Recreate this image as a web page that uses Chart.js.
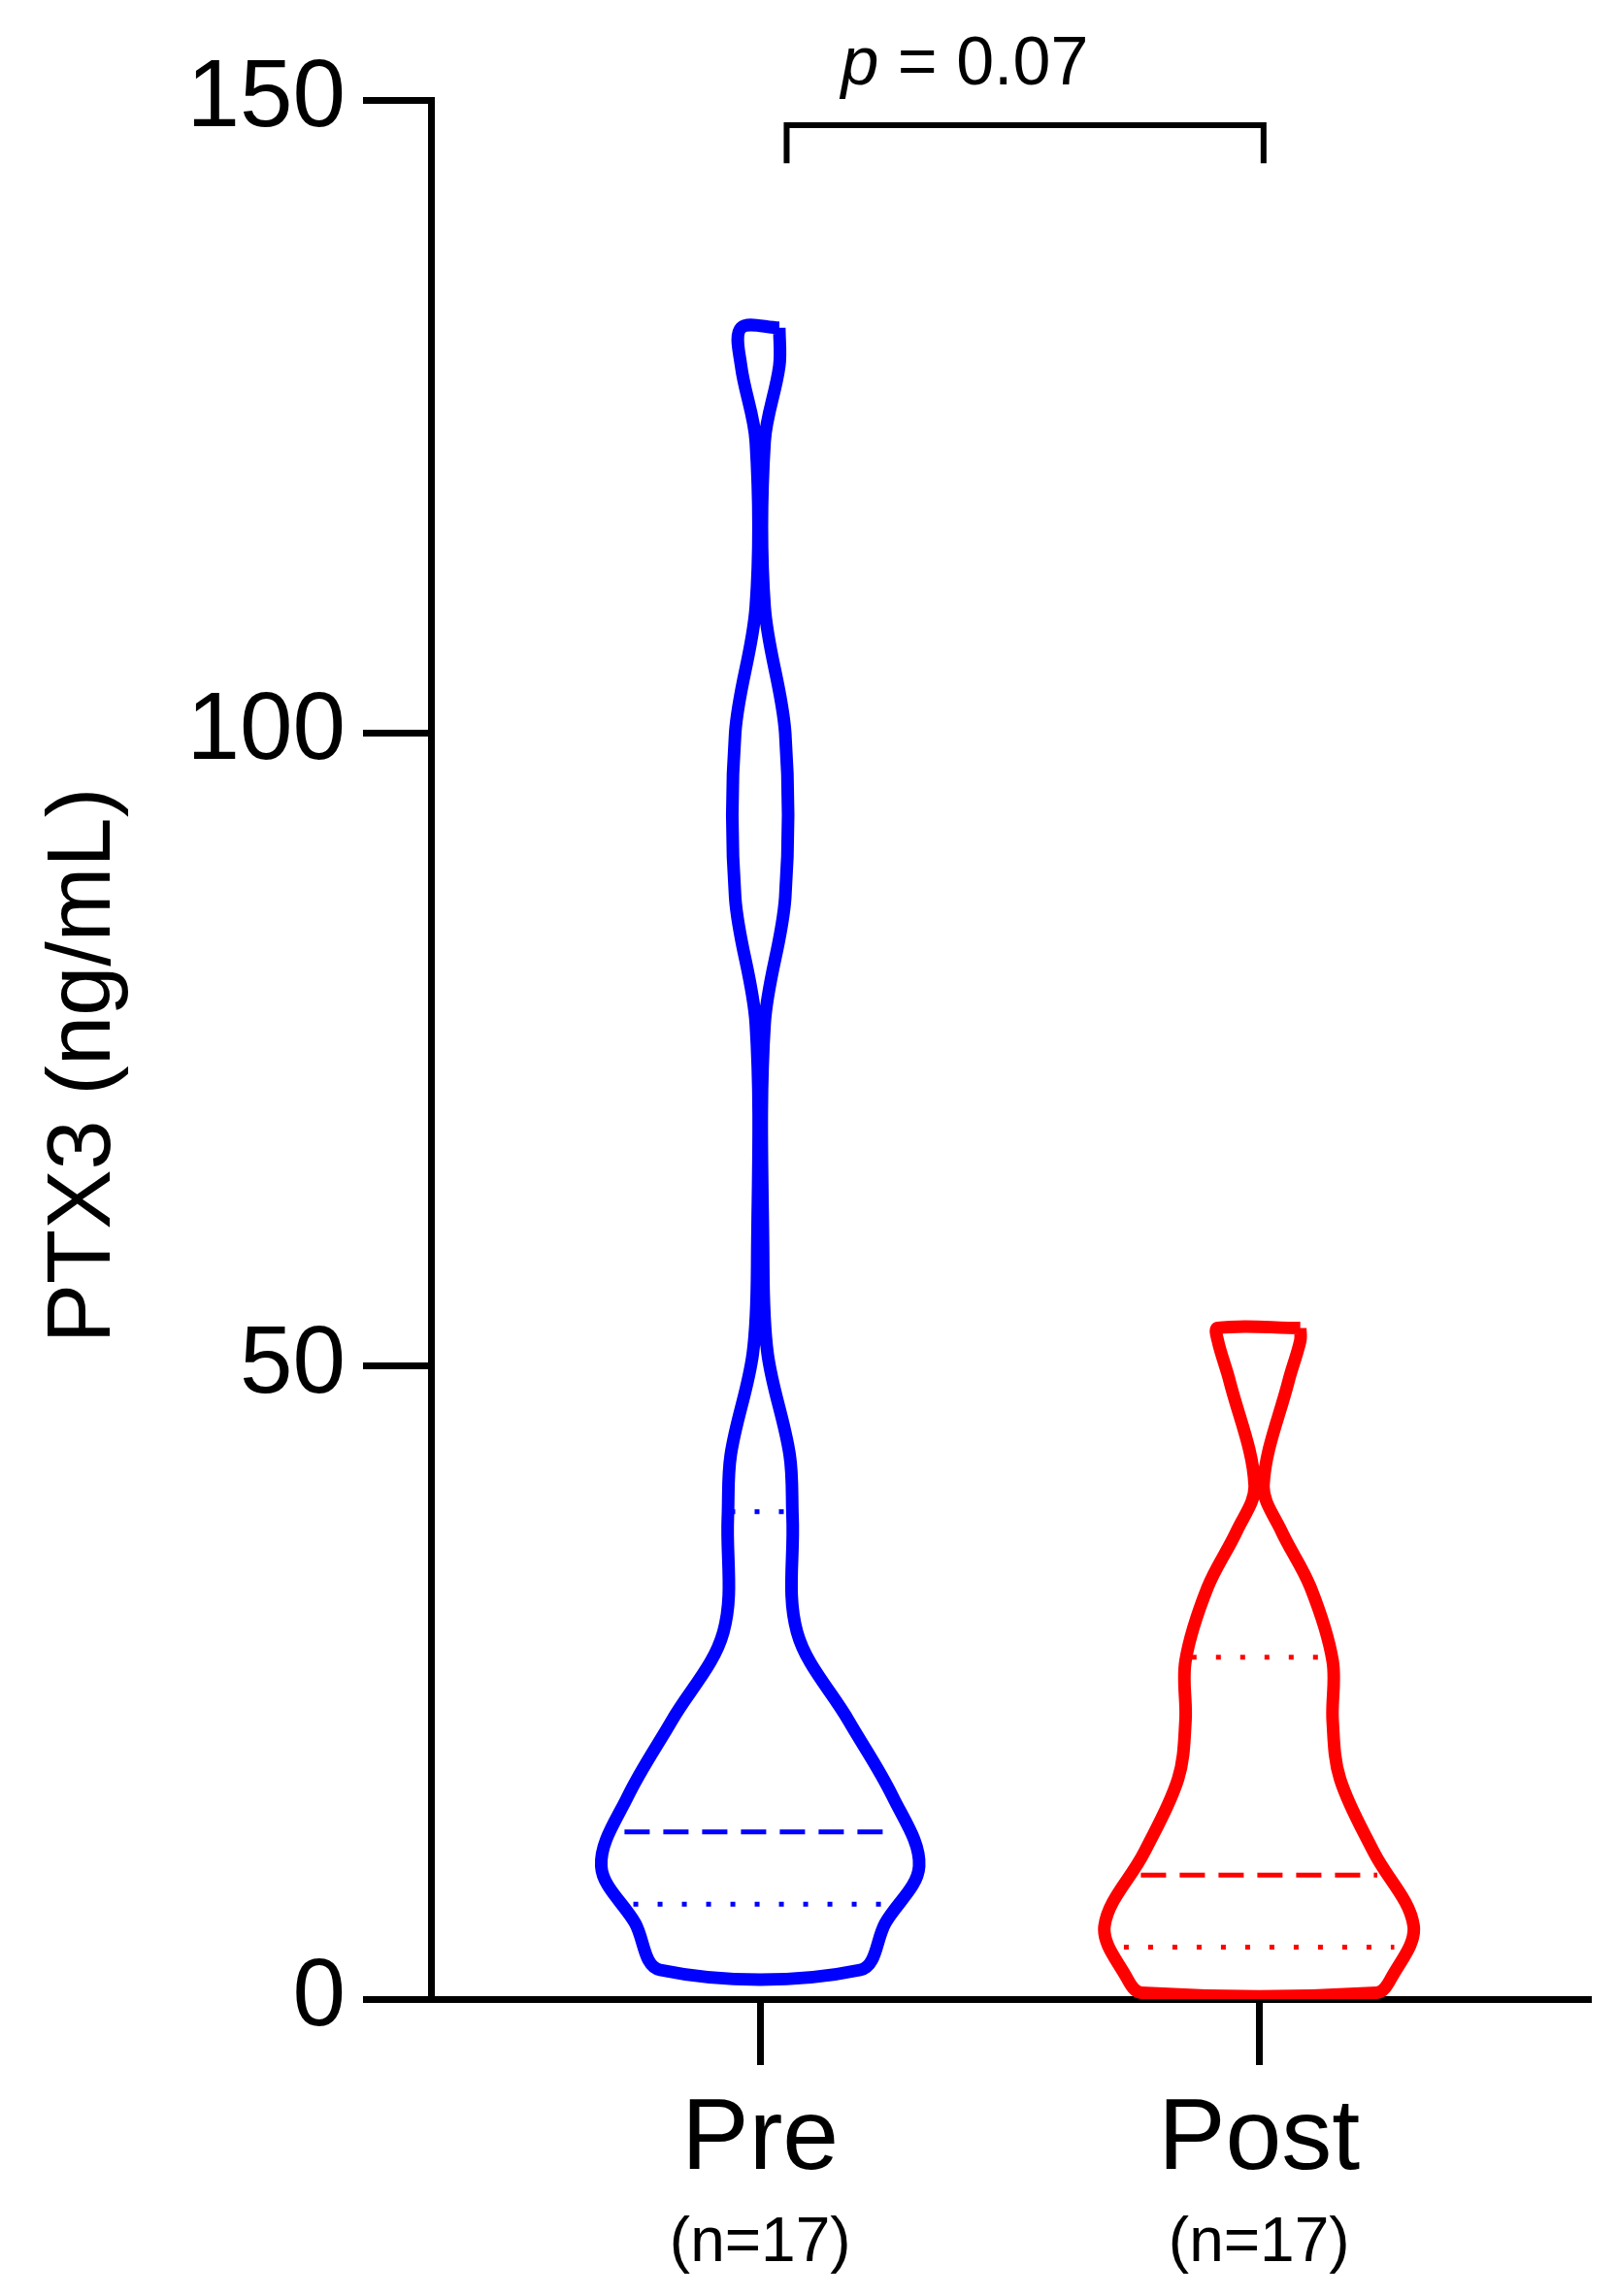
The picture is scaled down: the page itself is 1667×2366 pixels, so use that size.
<!DOCTYPE html>
<html><head><meta charset="utf-8">
<script src="https://cdn.jsdelivr.net/npm/chart.js@4"></script>
<style>html,body{margin:0;padding:0;background:#fff}#c{display:block}</style>
</head><body>
<canvas id="c" width="1667" height="2366"></canvas>
<script>
const categories = ['Pre', 'Post'];
const sampleLabels = ['(n=17)', '(n=17)'];
const yTicks = [0, 50, 100, 150];
// violin profiles: value levels (ng/mL) top->bottom and half-widths (density, px-relative units)
const preLevels = [132, 129, 123, 110, 100, 87, 77, 59, 51, 43, 38, 29, 22, 16, 10.5, 6, 2.3];
const preHalf   = [13, 13, 3, 3, 17, 17, 3, 2, 5, 20, 22, 25, 60, 90, 108, 85, 68];
const postLevels = [53, 52, 48.8, 40.6, 37, 32.5, 26.7, 22, 17.4, 11.6, 5.8, 1.7, 0.5];
const postHalf   = [28, 28, 20, 3, 15, 35, 50, 50, 55, 78, 105, 90, 80];
const preMedian = 13.2, preQuartiles = [7.5, 38.5];
const postMedian = 9.8, postQuartiles = [4.1, 27];
const pText = '0.07';
const DENS = 339; // half-width units per category spacing

function outline(center, levels, half) {
  const pts = [];
  for (let i = 0; i < levels.length; i++) pts.push({x: center + half[i] / DENS, y: levels[i]});
  for (let i = levels.length - 1; i >= 0; i--) pts.push({x: center - half[i] / DENS, y: levels[i]});
  pts.push(pts[0]);
  return pts;
}
function halfAt(levels, half, v) {
  for (let i = 0; i < levels.length - 1; i++) {
    if (v <= levels[i] && v >= levels[i + 1]) {
      const t = (levels[i] - v) / (levels[i] - levels[i + 1]);
      return half[i] + t * (half[i + 1] - half[i]);
    }
  }
  return 0;
}
function qLine(center, levels, half, v, color, dash) {
  const h = halfAt(levels, half, v) / DENS * 0.93;
  return {data: [{x: center - h, y: v}, {x: center + h, y: v}], borderColor: color, borderWidth: 5,
    borderDash: dash, pointRadius: 0, showLine: true, tension: 0};
}
const BLUE = '#0000ff', RED = '#ff0000';
const datasets = [
  {data: outline(1, preLevels, preHalf), borderColor: BLUE, borderWidth: 13, pointRadius: 0, showLine: true, tension: 0.35, borderJoinStyle: 'round'},
  {data: outline(2, postLevels, postHalf), borderColor: RED, borderWidth: 13, pointRadius: 0, showLine: true, tension: 0.35, borderJoinStyle: 'round'},
  qLine(1, preLevels, preHalf, preMedian, BLUE, [26, 14]),
  qLine(1, preLevels, preHalf, preQuartiles[0], BLUE, [5, 20]),
  qLine(1, preLevels, preHalf, preQuartiles[1], BLUE, [5, 20]),
  qLine(2, postLevels, postHalf, postMedian, RED, [26, 14]),
  qLine(2, postLevels, postHalf, postQuartiles[0], RED, [5, 20]),
  qLine(2, postLevels, postHalf, postQuartiles[1], RED, [5, 20]),
  {data: [{x: 1.053, y: 145}, {x: 1.053, y: 148}, {x: 2.009, y: 148}, {x: 2.009, y: 145}],
   borderColor: '#000', borderWidth: 6, pointRadius: 0, showLine: true, tension: 0, clip: false, borderJoinStyle: 'miter'}
];
const FONT = 'Liberation Sans, Arial, sans-serif';
const textPlugin = {
  id: 'txt',
  afterDraw(chart) {
    const ctx = chart.ctx, xs = chart.scales.x, ys = chart.scales.y;
    ctx.save();
    ctx.fillStyle = '#000';
    ctx.textAlign = 'center';
    ctx.textBaseline = 'middle';
    categories.forEach((c, i) => {
      const x = xs.getPixelForValue(i + 1);
      ctx.font = '104px ' + FONT;
      ctx.fillText(c, x, 2206);
      ctx.font = '64px ' + FONT;
      ctx.fillText(sampleLabels[i], x, 2312);
    });
    // p value
    const cx = xs.getPixelForValue(1.41), cy = 68;
    ctx.font = 'italic 70px ' + FONT;
    const pw = ctx.measureText('p').width;
    ctx.font = '70px ' + FONT;
    const rest = ' = ' + pText;
    const rw = ctx.measureText(rest).width;
    const x0 = cx - (pw + rw) / 2;
    ctx.textAlign = 'left';
    ctx.font = 'italic 70px ' + FONT;
    ctx.fillText('p', x0, cy);
    ctx.font = '70px ' + FONT;
    ctx.fillText(rest, x0 + pw, cy);
    // y title
    ctx.translate(88, 1098);
    ctx.rotate(-Math.PI / 2);
    ctx.textAlign = 'center';
    ctx.font = '92px ' + FONT;
    ctx.fillText('PTX3 (ng/mL)', 0, 0);
    ctx.restore();
  }
};
new Chart(document.getElementById('c'), {
  type: 'scatter',
  data: {datasets},
  options: {
    responsive: false, animation: false, devicePixelRatio: 1,
    layout: {padding: {top: 103, right: 28, left: 0, bottom: 0}},
    plugins: {legend: {display: false}, tooltip: {enabled: false}},
    scales: {
      x: {type: 'linear', min: 0.34, max: 2.665,
        afterFit(s) { s.height = 306; },
        afterBuildTicks(s) { s.ticks = [{value: 1}, {value: 2}]; },
        ticks: {callback: () => '', font: {size: 10}},
        grid: {drawOnChartArea: false, tickLength: 68, tickWidth: 7, color: '#000'},
        border: {color: '#000', width: 7}},
      y: {min: 0, max: 150,
        afterFit(s) { s.width = 444; },
        afterBuildTicks(s) { s.ticks = yTicks.map(v => ({value: v})); },
        ticks: {color: '#000', font: {size: 98, family: FONT}, padding: 18},
        grid: {drawOnChartArea: false, tickLength: 70, tickWidth: 7, color: '#000'},
        border: {color: '#000', width: 7}}
    }
  },
  plugins: [textPlugin]
});
</script>
</body></html>
